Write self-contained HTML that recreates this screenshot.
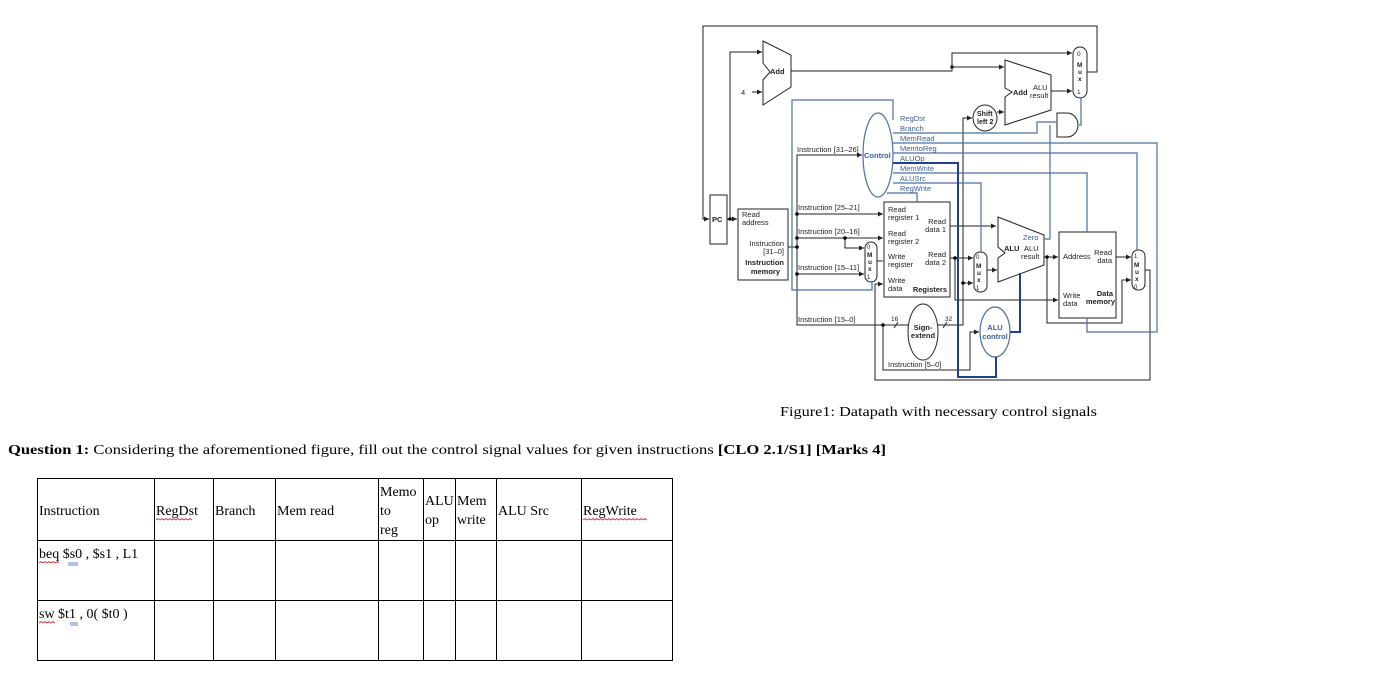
<!DOCTYPE html>
<html><head><meta charset="utf-8"><style>
html,body{margin:0;padding:0;background:#fff;width:1382px;height:692px;overflow:hidden}
svg{display:block}
.s{font-family:"Liberation Sans",sans-serif;font-size:7.5px;fill:#222}
.b{font-weight:bold}
.bl{fill:#3a5f9a}
.t{font-family:"Liberation Serif",serif;font-size:14px;fill:#000}
</style></head><body>
<svg width="1382" height="692" viewBox="0 0 1382 692" xmlns="http://www.w3.org/2000/svg">
<defs><marker id="a" markerWidth="6" markerHeight="6" refX="5" refY="3" orient="auto" markerUnits="userSpaceOnUse"><path d="M0,0.5 L5,3 L0,5.5z" fill="#222"/></marker></defs>
<g fill="none" stroke="#222" stroke-width="1">
<!-- top loop -->
<polyline points="1087,72 1097,72 1097,26 703,26 703,219 709,219" marker-end="url(#a)"/>
<polyline points="730,219 730,52 762,52" marker-end="url(#a)"/>
<line x1="752" y1="92" x2="762" y2="92" marker-end="url(#a)"/>
<polygon points="763,41 791,55 791,87 763,105 763,80 770,72 763,63" fill="#fff"/>
<polyline points="791,71 952,71 952,53 1072,53" marker-end="url(#a)"/>
<line x1="952" y1="67" x2="1004" y2="67" marker-end="url(#a)"/>
<polygon points="1005,60 1051,75 1051,110 1005,125 1005,97 1012,92 1005,88" fill="#fff"/>
<line x1="1051" y1="91" x2="1072" y2="91" marker-end="url(#a)"/>
<rect x="1073" y="47" width="14" height="51" rx="7" fill="#fff"/>
<ellipse cx="985" cy="118" rx="12" ry="13" fill="#fff"/>
<line x1="997" y1="112" x2="1004" y2="112" marker-end="url(#a)"/>
<path d="M1057,113 H1067 A11,12 0 0 1 1067,137 H1057 Z" fill="#fff"/>
<!-- PC & imem -->
<rect x="710" y="195" width="17" height="49" fill="#fff"/>
<line x1="727" y1="219" x2="737" y2="219" marker-end="url(#a)"/>
<rect x="738" y="209" width="50" height="71" fill="#fff"/>
<polyline points="788,247 797,247"/>
<polyline points="862,155 797,155 797,325 908,325" />
<line x1="797" y1="155" x2="862" y2="155" marker-end="url(#a)"/>
<line x1="797" y1="214" x2="883" y2="214" marker-end="url(#a)"/>
<line x1="797" y1="238" x2="883" y2="238" marker-end="url(#a)"/>
<polyline points="845,238 845,248 864,248" marker-end="url(#a)"/>
<line x1="797" y1="274" x2="864" y2="274" marker-end="url(#a)"/>
<rect x="865" y="242" width="12" height="40" rx="6" fill="#fff"/>
<line x1="877" y1="261" x2="883" y2="261"/>
<rect x="884" y="202" width="66" height="95" fill="#fff"/>
<polyline points="1145,270 1150,270 1150,380 875,380 875,284 883,284" marker-end="url(#a)"/>
<line x1="950" y1="226" x2="996" y2="226" marker-end="url(#a)"/>
<line x1="950" y1="258" x2="973" y2="258" marker-end="url(#a)"/>
<polyline points="955,258 955,300 1058,300" marker-end="url(#a)"/>
<rect x="974" y="252" width="13" height="40" rx="6" fill="#fff"/>
<polyline points="938,325 963,325 963,283 973,283" marker-end="url(#a)"/>
<polyline points="963,283 963,118 972,118" marker-end="url(#a)"/>
<line x1="987" y1="270" x2="997" y2="270" marker-end="url(#a)"/>
<polygon points="998,217 1044,235 1044,265 998,282 998,258 1005,253 998,247" fill="#fff"/>
<line x1="1044" y1="257" x2="1058" y2="257" marker-end="url(#a)"/>
<polyline points="1047,257 1047,323 1122,323 1122,280 1131,280" marker-end="url(#a)"/>
<rect x="1059" y="232" width="57" height="86" fill="#fff"/>
<line x1="1116" y1="257" x2="1131" y2="257" marker-end="url(#a)"/>
<rect x="1132" y="250" width="13" height="40" rx="6" fill="#fff"/>
<ellipse cx="923" cy="332" rx="15" ry="28" fill="#fff"/>
<polyline points="883,325 883,370 970,370 970,332 979,332" marker-end="url(#a)"/>
<line x1="894" y1="328" x2="898" y2="322"/><line x1="943" y1="328" x2="947" y2="322"/>
</g>
<circle cx="952" cy="67" r="1.8" fill="#222"/><circle cx="730" cy="219" r="1.8"/><circle cx="797" cy="247" r="1.8"/><circle cx="797" cy="238" r="1.8"/><circle cx="797" cy="214" r="1.8"/><circle cx="797" cy="274" r="1.8"/><circle cx="845" cy="238" r="1.8"/><circle cx="883" cy="325" r="1.8"/><circle cx="955" cy="258" r="1.8"/><circle cx="963" cy="283" r="1.8"/><circle cx="1047" cy="257" r="1.8"/>
<!-- blue control lines -->
<g fill="none" stroke="#4a6fa5" stroke-width="1.2">
<polyline points="893,120 893,100 792,100 792,290 872,290 872,282"/>
<polyline points="893,133 1037,133 1037,122 1057,122"/>
<polyline points="1079,125 1081,125 1081,98"/>
<polyline points="1050,125 1050,239 1044,239"/>
<polyline points="893,143 1157,143 1157,332 1087,332 1087,318"/>
<polyline points="893,153 1137,153 1137,250"/>
<polyline points="893,173 1087,173 1087,232"/>
<polyline points="893,183 981,183 981,252"/>
<polyline points="887,193 917,193 917,202"/>
<ellipse cx="995" cy="332" rx="15" ry="25" fill="#fff"/>
</g>
<g fill="none" stroke="#1f3f8f" stroke-width="2">
<polyline points="893,163 958,163 958,377 996,377 996,357"/>
<polyline points="1010,332 1020,332 1020,273"/>
</g>
<ellipse cx="878" cy="155" rx="15" ry="42" fill="#fff" stroke="#4a6fa5" stroke-width="1.2"/>
<!-- labels -->
<g class="s">
<text x="770" y="74" class="b">Add</text>
<text x="741" y="95">4</text>
<text x="1013" y="95" class="b">Add</text>
<text x="1033" y="90">ALU</text><text x="1030" y="98">result</text>
<text x="1077" y="56" font-size="6.5">0</text><text x="1077" y="67" class="b" font-size="6.5">M</text><text x="1078" y="74" class="b" font-size="6.5">u</text><text x="1078" y="81" class="b" font-size="6.5">x</text><text x="1077" y="94" font-size="6.5">1</text>
<text x="977" y="116" class="b" font-size="7">Shift</text><text x="977" y="124" class="b" font-size="7">left 2</text>
<text x="900" y="121" class="bl">RegDst</text><text x="900" y="131" class="bl">Branch</text><text x="900" y="141" class="bl">MemRead</text><text x="900" y="151" class="bl">MemtoReg</text><text x="900" y="161" class="bl">ALUOp</text><text x="900" y="171" class="bl">MemWrite</text><text x="900" y="181" class="bl">ALUSrc</text><text x="900" y="191" class="bl">RegWrite</text>
<text x="797" y="152">Instruction [31–26]</text>
<text x="864" y="158" class="b bl">Control</text>
<text x="712" y="222" class="b">PC</text>
<text x="742" y="217">Read</text><text x="742" y="225">address</text>
<text x="784" y="246" text-anchor="end">Instruction</text><text x="784" y="254" text-anchor="end">[31–0]</text>
<text x="784" y="265" text-anchor="end" class="b">Instruction</text><text x="780" y="274" text-anchor="end" class="b">memory</text>
<text x="798" y="210">Instruction [25–21]</text>
<text x="798" y="234">Instruction [20–16]</text>
<text x="798" y="270">Instruction [15–11]</text>
<text x="798" y="322">Instruction [15–0]</text>
<text x="867" y="249" font-size="6">0</text><text x="867" y="257" class="b" font-size="6.5">M</text><text x="868" y="264" class="b" font-size="6.5">u</text><text x="868" y="271" class="b" font-size="6.5">x</text><text x="867" y="279" font-size="6">1</text>
<text x="888" y="212">Read</text><text x="888" y="220">register 1</text>
<text x="888" y="236">Read</text><text x="888" y="244">register 2</text>
<text x="888" y="259">Write</text><text x="888" y="267">register</text>
<text x="888" y="283">Write</text><text x="888" y="291">data</text>
<text x="946" y="224" text-anchor="end">Read</text><text x="946" y="232" text-anchor="end">data 1</text>
<text x="946" y="257" text-anchor="end">Read</text><text x="946" y="265" text-anchor="end">data 2</text>
<text x="947" y="292" text-anchor="end" class="b">Registers</text>
<text x="976" y="259" font-size="6">0</text><text x="976" y="268" class="b" font-size="6.5">M</text><text x="977" y="275" class="b" font-size="6.5">u</text><text x="977" y="282" class="b" font-size="6.5">x</text><text x="976" y="290" font-size="6">1</text>
<text x="1023" y="240" class="bl">Zero</text>
<text x="1004" y="251" class="b">ALU</text><text x="1024" y="251">ALU</text><text x="1021" y="259">result</text>
<text x="1063" y="259">Address</text><text x="1112" y="255" text-anchor="end">Read</text><text x="1112" y="263" text-anchor="end">data</text>
<text x="1063" y="298">Write</text><text x="1063" y="306">data</text>
<text x="1113" y="296" text-anchor="end" class="b">Data</text><text x="1115" y="304" text-anchor="end" class="b">memory</text>
<text x="1134" y="258" font-size="6">1</text><text x="1134" y="267" class="b" font-size="6.5">M</text><text x="1135" y="274" class="b" font-size="6.5">u</text><text x="1135" y="281" class="b" font-size="6.5">x</text><text x="1134" y="289" font-size="6">0</text>
<text x="891" y="321" font-size="6.5">16</text><text x="945" y="321" font-size="6.5">32</text>
<text x="923" y="330" text-anchor="middle" class="b">Sign-</text><text x="923" y="338" text-anchor="middle" class="b">extend</text>
<text x="995" y="330" text-anchor="middle" class="b bl">ALU</text><text x="995" y="339" text-anchor="middle" class="b bl">control</text>
<text x="888" y="367">Instruction [5–0]</text>
</g>
<text class="t" x="780" y="416" textLength="317" lengthAdjust="spacingAndGlyphs">Figure1: Datapath with necessary control signals</text>
<text class="t" x="8" y="454" textLength="878" lengthAdjust="spacingAndGlyphs"><tspan font-weight="bold">Question 1:</tspan> Considering the aforementioned figure, fill out the control signal values for given instructions <tspan font-weight="bold">[CLO 2.1/S1] [Marks 4]</tspan></text>
<!-- table -->
<g stroke="#000" stroke-width="1" fill="none">
<rect x="37.5" y="478.5" width="635" height="182"/>
<line x1="37" y1="540.5" x2="673" y2="540.5"/><line x1="37" y1="600.5" x2="673" y2="600.5"/>
<line x1="154.5" y1="478" x2="154.5" y2="661"/><line x1="213.5" y1="478" x2="213.5" y2="661"/><line x1="275.5" y1="478" x2="275.5" y2="661"/><line x1="378.5" y1="478" x2="378.5" y2="661"/><line x1="423.5" y1="478" x2="423.5" y2="661"/><line x1="455.5" y1="478" x2="455.5" y2="661"/><line x1="496.5" y1="478" x2="496.5" y2="661"/><line x1="581.5" y1="478" x2="581.5" y2="661"/>
</g>
<g class="t" font-size="13.5">
<text x="39" y="515">Instruction</text><text x="156" y="515">RegDst</text><text x="215" y="515">Branch</text><text x="277" y="515">Mem read</text>
<text x="380" y="496">Memo</text><text x="380" y="515">to</text><text x="380" y="534">reg</text>
<text x="425" y="505">ALU</text><text x="425" y="524">op</text>
<text x="457" y="505">Mem</text><text x="457" y="524">write</text>
<text x="498" y="515">ALU Src</text><text x="583" y="515">RegWrite</text>
<text x="39" y="558">beq $s0 , $s1 , L1</text>
<text x="39" y="618">sw $t1 , 0( $t0 )</text>
</g>
<g stroke="#c33" stroke-width="0.8" fill="none">
<path d="M156,520 l2,-1.5 l2,1.5 l2,-1.5 l2,1.5 l2,-1.5 l2,1.5 l2,-1.5 l2,1.5 l2,-1.5 l2,1.5 l2,-1.5 l2,1.5 l2,-1.5 l2,1.5 l2,-1.5 l2,1.5 l2,-1.5 l2,1.5"/>
<path d="M583,520 l2,-1.5 l2,1.5 l2,-1.5 l2,1.5 l2,-1.5 l2,1.5 l2,-1.5 l2,1.5 l2,-1.5 l2,1.5 l2,-1.5 l2,1.5 l2,-1.5 l2,1.5 l2,-1.5 l2,1.5 l2,-1.5 l2,1.5 l2,-1.5 l2,1.5 l2,-1.5 l2,1.5 l2,-1.5 l2,1.5 l2,-1.5 l2,1.5 l2,-1.5 l2,1.5 l2,-1.5 l2,1.5 l2,-1.5 l2,1.5"/>
<path d="M39,563 l2,-1.5 l2,1.5 l2,-1.5 l2,1.5 l2,-1.5 l2,1.5 l2,-1.5 l2,1.5 l2,-1.5 l2,1.5"/>
<path d="M39,623 l2,-1.5 l2,1.5 l2,-1.5 l2,1.5 l2,-1.5 l2,1.5 l2,-1.5 l2,1.5"/>
</g>
<g stroke="#3a6bd0" stroke-width="0.8"><line x1="68" y1="563" x2="78" y2="563"/><line x1="68" y1="565" x2="78" y2="565"/><line x1="70" y1="623" x2="78" y2="623"/><line x1="70" y1="625" x2="78" y2="625"/></g>
</svg>
</body></html>
